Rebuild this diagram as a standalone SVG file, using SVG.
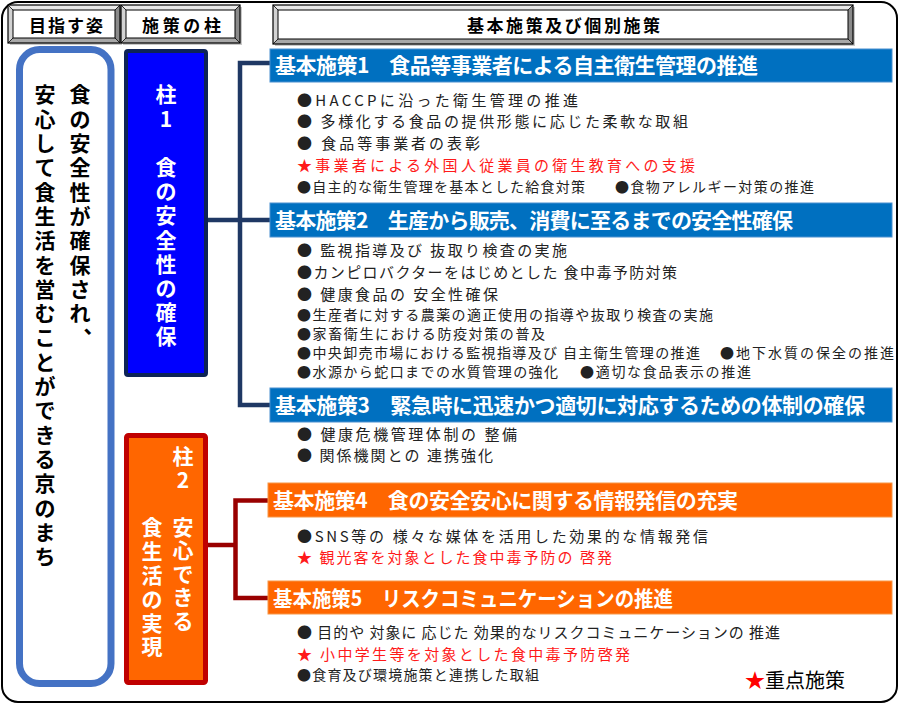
<svg xmlns="http://www.w3.org/2000/svg" width="907" height="705" viewBox="0 0 907 705">
<style>
text{font-family:"Noto Sans CJK JP","Noto Sans",sans-serif}
.hdr{font-size:17px;font-weight:700;fill:#000}
.bt{fill:#e9e9e9}.bl{fill:#d2d2d2}.br{fill:#8a8a8a}.bb{fill:#a8a8a8}
.edge{fill:none;stroke:#000;stroke-width:1.2}
.in{fill:#fff;stroke:#000;stroke-width:1}
.diag{stroke:#000;stroke-width:0.8}
.vt{font-size:21px;font-weight:700;text-anchor:middle}
.head{font-size:21px;font-weight:700;fill:#fff}
.item{font-size:15px;fill:#222}
.sm{font-size:14px}
.red{fill:#ff1a1a}
.c1{fill:none;stroke:#1f3864;stroke-width:4.5}
.c2{fill:none;stroke:#990000;stroke-width:4.5}
</style>
<rect x="2" y="2" width="895" height="700" rx="16" fill="#fff" stroke="#000" stroke-width="2"/>

<g id="header-goal">
<rect x="10" y="7" width="112" height="38" fill="#c8c8c8"/>
<polygon class="bt" points="8,5 120,5 115,10 13,10"/>
<polygon class="bl" points="8,5 13,10 13,38 8,43"/>
<polygon class="br" points="120,5 120,43 115,38 115,10"/>
<polygon class="bb" points="8,43 120,43 115,38 13,38"/>
<path class="diag" d="M8,5L13,10M120,5L115,10M8,43L13,38M120,43L115,38"/>
<rect class="in" x="13" y="10" width="102" height="28"/>
<rect class="edge" x="8" y="5" width="112" height="38"/>
<text class="hdr" x="29" y="31.5" textLength="74" lengthAdjust="spacing">目指す姿</text>
</g>

<g id="header-pillar">
<rect x="123" y="7" width="119" height="38" fill="#c8c8c8"/>
<polygon class="bt" points="121,5 240,5 235,10 126,10"/>
<polygon class="bl" points="121,5 126,10 126,38 121,43"/>
<polygon class="br" points="240,5 240,43 235,38 235,10"/>
<polygon class="bb" points="121,43 240,43 235,38 126,38"/>
<path class="diag" d="M121,5L126,10M240,5L235,10M121,43L126,38M240,43L235,38"/>
<rect class="in" x="126" y="10" width="109" height="28"/>
<rect class="edge" x="121" y="5" width="119" height="38"/>
<text class="hdr" x="142" y="31.5" textLength="79" lengthAdjust="spacing">施策の柱</text>
</g>

<g id="header-policy">
<rect x="275" y="7" width="580" height="39" fill="#c8c8c8"/>
<polygon class="bt" points="273,5 853,5 848,10 278,10"/>
<polygon class="bl" points="273,5 278,10 278,39 273,44"/>
<polygon class="br" points="853,5 853,44 848,39 848,10"/>
<polygon class="bb" points="273,44 853,44 848,39 278,39"/>
<path class="diag" d="M273,5L278,10M853,5L848,10M273,44L278,39M853,44L848,39"/>
<rect class="in" x="278" y="10" width="570" height="29"/>
<rect class="edge" x="273" y="5" width="580" height="39"/>
<text class="hdr" x="467" y="31.5" textLength="193" lengthAdjust="spacing">基本施策及び個別施策</text>
</g>

<g id="goal">
<rect x="19.5" y="49.5" width="91.5" height="634" rx="20" fill="#fff" stroke="#4472c4" stroke-width="7"/>
<text class="vt" fill="#000" x="80 80 80 80 80 80 80 80 80 80 94" y="102.4 126.7 151 175.3 199.6 223.9 248.2 272.5 296.8 321.1 333">食の安全性が確保され、</text>
<text class="vt" fill="#000" x="45 45 45 45 45 45 45 45 45 45 45 45 45 45 45 45 45 45 45 45" y="102.4 126.7 151 175.3 199.6 223.9 248.2 272.5 296.8 321.1 345.4 369.7 394 418.3 442.6 466.9 491.2 515.5 539.8 564.1">安心して食生活を営むことができる京のまち</text>
</g>

<g id="pillar1">
<rect x="126" y="51" width="80" height="324" rx="2" fill="#0000ff" stroke="#0d2356" stroke-width="4"/>
<text class="vt" fill="#fff" x="166 166 166 166 166 166 166 166 166 166 166" y="102.4 126.6 150.8 175 199.2 223.4 247.6 271.8 296 320.2 344.4">柱1　食の安全性の確保</text>
</g>

<g id="pillar2">
<rect x="126.5" y="435.5" width="79" height="247" rx="2" fill="#ff6600" stroke="#c00000" stroke-width="5"/>
<text class="vt" fill="#fff" x="183 183 183 183 183 183 183 183" y="464.4 487.9 511.4 534.9 558.4 581.9 605.4 628.9">柱2　安心できる</text>
<text class="vt" fill="#fff" x="152 152 152 152 152 152" y="535.4 559.2 583 606.8 630.6 654.4">食生活の実現</text>
</g>

<g id="connectors">
<path class="c1" d="M270,63H240V405H270"/>
<path class="c1" d="M208,220H270"/>
<path class="c2" d="M268,500.5H235.5V598H268"/>
<path class="c2" d="M208,545H235.5"/>
</g>

<g id="policy1">
<rect x="270" y="49" width="622" height="33" fill="#0070c0" stroke="#4a90d0" stroke-width="1"/>
<text class="head" x="275" y="73" textLength="483" lengthAdjust="spacing">基本施策1　食品等事業者による自主衛生管理の推進</text>
<text class="item" x="297" y="105.7" textLength="281" lengthAdjust="spacing">●HACCPに沿った衛生管理の推進</text>
<text class="item" x="297" y="126.7" textLength="391" lengthAdjust="spacing">● 多様化する食品の提供形態に応じた柔軟な取組</text>
<text class="item" x="297" y="148.7" textLength="183" lengthAdjust="spacing">● 食品等事業者の表彰</text>
<text class="item red" x="297" y="170.7" textLength="398" lengthAdjust="spacing">★事業者による外国人従業員の衛生教育への支援</text>
<text class="item sm" x="297" y="191.7" textLength="288" lengthAdjust="spacing">●自主的な衛生管理を基本とした給食対策</text>
<text class="item sm" x="615" y="191.7" textLength="199" lengthAdjust="spacing">●食物アレルギー対策の推進</text>
</g>

<g id="policy2">
<rect x="270" y="203" width="622" height="34" fill="#0070c0" stroke="#4a90d0" stroke-width="1"/>
<text class="head" x="275" y="228" textLength="518" lengthAdjust="spacing">基本施策2　生産から販売、消費に至るまでの安全性確保</text>
<text class="item" x="297" y="255.7" textLength="270" lengthAdjust="spacing">● 監視指導及び 抜取り検査の実施</text>
<text class="item" x="297" y="277.7" textLength="380" lengthAdjust="spacing">●カンピロバクターをはじめとした 食中毒予防対策</text>
<text class="item" x="297" y="299.7" textLength="201" lengthAdjust="spacing">● 健康食品の 安全性確保</text>
<text class="item sm" x="297" y="320.2" textLength="416" lengthAdjust="spacing">●生産者に対する農薬の適正使用の指導や抜取り検査の実施</text>
<text class="item sm" x="297" y="339.2" textLength="248" lengthAdjust="spacing">●家畜衛生における防疫対策の普及</text>
<text class="item sm" x="297" y="358.2" textLength="403" lengthAdjust="spacing">●中央卸売市場における監視指導及び 自主衛生管理の推進</text>
<text class="item sm" x="720" y="358.2" textLength="174" lengthAdjust="spacing">●地下水質の保全の推進</text>
<text class="item sm" x="297" y="377.2" textLength="261" lengthAdjust="spacing">●水源から蛇口までの水質管理の強化</text>
<text class="item sm" x="580" y="377.2" textLength="171" lengthAdjust="spacing">●適切な食品表示の推進</text>
</g>

<g id="policy3">
<rect x="270" y="388" width="622" height="34" fill="#0070c0" stroke="#4a90d0" stroke-width="1"/>
<text class="head" x="275" y="413" textLength="590" lengthAdjust="spacing">基本施策3　緊急時に迅速かつ適切に対応するための体制の確保</text>
<text class="item" x="297" y="439.7" textLength="220" lengthAdjust="spacing">● 健康危機管理体制の 整備</text>
<text class="item" x="297" y="460.7" textLength="196" lengthAdjust="spacing">● 関係機関との 連携強化</text>
</g>

<g id="policy4">
<rect x="268" y="483" width="624" height="34" fill="#ff6600" stroke="#f79646" stroke-width="1"/>
<text class="head" x="273" y="508" textLength="465" lengthAdjust="spacing">基本施策4　食の安全安心に関する情報発信の充実</text>
<text class="item" x="297" y="541.7" textLength="411" lengthAdjust="spacing">●SNS等の 様々な媒体を活用した効果的な情報発信</text>
<text class="item red" x="297" y="562.7" textLength="315" lengthAdjust="spacing">★ 観光客を対象とした食中毒予防の 啓発</text>
</g>

<g id="policy5">
<rect x="268" y="581" width="624" height="33" fill="#ff6600" stroke="#f79646" stroke-width="1"/>
<text class="head" x="273" y="605.5" textLength="400" lengthAdjust="spacingAndGlyphs">基本施策5　リスクコミュニケーションの推進</text>
<text class="item" x="297" y="637.7" textLength="483" lengthAdjust="spacing">● 目的や 対象に 応じた 効果的なリスクコミュニケーションの 推進</text>
<text class="item red" x="297" y="659.7" textLength="333" lengthAdjust="spacing">★ 小中学生等を対象とした食中毒予防啓発</text>
<text class="item sm" x="297" y="679.7" textLength="242" lengthAdjust="spacing">●食育及び環境施策と連携した取組</text>
</g>

<g id="legend">
<text x="745" y="688" font-size="20" fill="#000" textLength="100" lengthAdjust="spacing"><tspan fill="#ff0000">★</tspan>重点施策</text>
</g>
</svg>
